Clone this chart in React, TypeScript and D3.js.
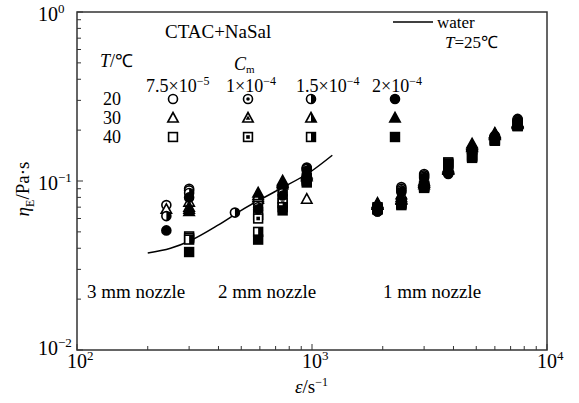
import React from 'react';
import * as d3 from 'd3';

const W = 579;
const H = 403;
const margin = { top: 12, right: 32, bottom: 53, left: 77 };

// strain rates (1/s) for each measured point
const strainRates = [240, 300, 470, 590, 750, 950, 1900, 2400, 3000, 3800, 4800, 6000, 7500];

const temperatures = ['20', '30', '40'];
const concMantissa = ['7.5', '1', '1.5', '2'];
const concExponent = ['−5', '−4', '−4', '−4'];

// extensional viscosity, Pa·s  (T = 20 ℃, circles)
const eta20c75 = [0.072, 0.09, null, 0.076, 0.092, 0.12, 0.068, 0.092, 0.11, 0.114, 0.155, 0.185, 0.233];
const eta20c100 = [null, 0.088, null, 0.073, 0.088, 0.118, 0.067, 0.09, 0.108, 0.112, 0.15, 0.182, 0.23];
const eta20c150 = [0.062, 0.085, 0.065, 0.07, 0.085, 0.118, 0.066, 0.088, 0.106, 0.111, 0.147, 0.18, 0.228];
const eta20c200 = [0.051, 0.08, null, 0.068, 0.082, 0.115, 0.066, 0.086, 0.104, 0.11, 0.145, 0.178, 0.225];
// T = 30 ℃, triangles
const eta30c75 = [0.068, 0.075, null, 0.078, 0.1, 0.078, 0.074, 0.083, 0.1, 0.12, 0.166, 0.192, 0.222];
const eta30c100 = [null, 0.07, null, 0.08, 0.098, 0.11, 0.073, 0.08, 0.098, 0.118, 0.163, 0.19, 0.22];
const eta30c150 = [null, 0.068, null, 0.082, 0.097, 0.108, 0.072, 0.078, 0.097, 0.117, 0.16, 0.188, 0.218];
const eta30c200 = [null, 0.066, null, 0.085, 0.095, 0.106, 0.072, 0.077, 0.095, 0.116, 0.158, 0.186, 0.216];
// T = 40 ℃, squares
const eta40c75 = [null, 0.047, null, 0.063, 0.078, 0.104, 0.07, 0.075, 0.094, 0.129, 0.142, 0.177, 0.215];
const eta40c100 = [null, 0.046, null, 0.06, 0.074, 0.102, 0.069, 0.074, 0.093, 0.127, 0.14, 0.175, 0.213];
const eta40c150 = [null, 0.045, null, 0.05, 0.07, 0.1, 0.068, 0.073, 0.092, 0.126, 0.139, 0.174, 0.212];
const eta40c200 = [null, 0.038, null, 0.045, 0.067, 0.098, 0.068, 0.072, 0.091, 0.124, 0.137, 0.173, 0.211];

// water reference curve
const waterRate = [200, 250, 300, 400, 500, 700, 1000, 1220];
const waterEta = [0.0375, 0.04, 0.044, 0.055, 0.067, 0.087, 0.115, 0.142];

const nozzleLabels = ['3 mm nozzle', '2 mm nozzle', '1 mm nozzle'];

const shapes = ['circle', 'triangle', 'square'];
const styles = ['open', 'dot', 'half', 'filled'];
const seriesValues = [
  [eta20c75, eta20c100, eta20c150, eta20c200],
  [eta30c75, eta30c100, eta30c150, eta30c200],
  [eta40c75, eta40c100, eta40c150, eta40c200],
];

const FONT = "'Liberation Serif', 'Times New Roman', Times, serif";
const sw = 1.6;

function Marker({ shape, style, cx, cy }: { shape: string; style: string; cx: number; cy: number }) {
  const fillMain = style === 'filled' ? '#000' : '#fff';
  if (shape === 'circle') {
    const r = 4.5;
    return (
      <g>
        <circle cx={cx} cy={cy} r={r} fill={fillMain} stroke="#000" strokeWidth={sw} />
        {style === 'dot' && <circle cx={cx} cy={cy} r={1.8} fill="#000" />}
        {style === 'half' && (
          <path d={`M${cx},${cy - r}A${r},${r} 0 0 1 ${cx},${cy + r}Z`} fill="#000" />
        )}
      </g>
    );
  }
  if (shape === 'triangle') {
    const pts = (s: number) =>
      `${cx},${cy - 5.5 * s} ${cx + 5.2 * s},${cy + 4 * s} ${cx - 5.2 * s},${cy + 4 * s}`;
    return (
      <g>
        <polygon points={pts(1)} fill={fillMain} stroke="#000" strokeWidth={sw} strokeLinejoin="miter" />
        {style === 'dot' && <polygon points={pts(0.45)} fill="#000" />}
        {style === 'half' && (
          <polygon points={`${cx},${cy - 5.5} ${cx + 5.2},${cy + 4} ${cx},${cy + 4}`} fill="#000" />
        )}
      </g>
    );
  }
  const h = 4.4;
  return (
    <g>
      <rect x={cx - h} y={cy - h} width={2 * h} height={2 * h} fill={fillMain} stroke="#000" strokeWidth={sw} />
      {style === 'dot' && <rect x={cx - 1.8} y={cy - 1.8} width={3.6} height={3.6} fill="#000" />}
      {style === 'half' && <rect x={cx} y={cy - h} width={h} height={2 * h} fill="#000" />}
    </g>
  );
}

export default function App() {
  const x = d3.scaleLog().domain([1e2, 1e4]).range([margin.left, W - margin.right]);
  const y = d3.scaleLog().domain([1e-2, 1]).range([H - margin.bottom, margin.top]);
  const x0 = margin.left, x1 = W - margin.right, y0 = H - margin.bottom, y1 = margin.top;

  const isMajor = (v: number) => Math.abs(Math.log10(v) - Math.round(Math.log10(v))) < 1e-9;
  const xTicks = x.ticks();
  const yTicks = y.ticks();

  const line = d3
    .line<number>()
    .x((_, i) => x(waterRate[i]))
    .y((d) => y(d))
    .curve(d3.curveMonotoneX);

  // legend layout
  const legColX = [173, 248, 311, 395];
  const legLabelX = [146, 226, 296, 372];
  const legRowY = [99, 118, 137];

  const points: React.ReactNode[] = [];
  styles.forEach((st, si) => {
    shapes.forEach((sh, ti) => {
      seriesValues[ti][si].forEach((v, i) => {
        if (v == null) return;
        points.push(
          <Marker key={`${sh}-${st}-${i}`} shape={sh} style={st} cx={x(strainRates[i])} cy={y(v)} />
        );
      });
    });
  });

  return (
    <svg
      width={W}
      height={H}
      style={{ position: 'absolute', left: 0, top: 0, background: '#fff', fontFamily: FONT }}
    >
      <rect x={0} y={0} width={W} height={H} fill="#fff" />

      {/* ticks */}
      {xTicks.map((t) => (
        <line key={`xt${t}`} x1={x(t)} x2={x(t)} y1={y0} y2={y0 - (isMajor(t) ? 6 : 4)} stroke="#333" strokeWidth={1} />
      ))}
      {yTicks.map((t) => (
        <line key={`yt${t}`} x1={x0} x2={x0 + (isMajor(t) ? 6 : 4)} y1={y(t)} y2={y(t)} stroke="#333" strokeWidth={1} />
      ))}

      {/* tick labels */}
      {xTicks.filter(isMajor).map((t) => (
        <text key={`xl${t}`} x={x(t) - 10} y={y0 + 18} fontSize={20} fill="#000">
          10
          <tspan dy={-8} fontSize={13}>{Math.round(Math.log10(t))}</tspan>
        </text>
      ))}
      {yTicks.filter(isMajor).map((t) => (
        <text key={`yl${t}`} x={38} y={Math.min(y(t) + 9, y0 + 5)} fontSize={20} fill="#000">
          10
          <tspan dy={-8} fontSize={13}>{String(Math.round(Math.log10(t))).replace('-', '−')}</tspan>
        </text>
      ))}

      {/* axis titles */}
      <text x={(x0 + x1) / 2 - 17} y={393} fontSize={19} fill="#000">
        <tspan fontStyle="italic">ε</tspan>/s
        <tspan dy={-7} fontSize={12}>−1</tspan>
      </text>
      <text transform={`translate(29,${(y0 + y1) / 2 + 8}) rotate(-90)`} fontSize={19} fill="#000" textAnchor="middle">
        <tspan fontStyle="italic">η</tspan>
        <tspan dy={5} fontSize={12}>E</tspan>
        <tspan dy={-5}>/Pa·s</tspan>
      </text>

      {/* water curve */}
      <path d={line(waterEta) || ''} fill="none" stroke="#000" strokeWidth={1.5} />

      {/* data */}
      {points}

      {/* nozzle labels */}
      {nozzleLabels.map((lab, i) => (
        <text key={lab} x={[87, 218, 383][i]} y={298} fontSize={19} fill="#000">
          {lab}
        </text>
      ))}

      {/* legend */}
      <text x={165} y={38} fontSize={19} fill="#000">CTAC+NaSal</text>
      <text x={100} y={67} fontSize={18} fill="#000">
        <tspan fontStyle="italic">T</tspan>/℃
      </text>
      <text x={234} y={70} fontSize={18} fill="#000">
        <tspan fontStyle="italic">C</tspan>
        <tspan dy={3} fontSize={11}>m</tspan>
      </text>
      {concMantissa.map((m, i) => (
        <text key={`cl${i}`} x={legLabelX[i]} y={92} fontSize={18} fill="#000">
          {m}×10
          <tspan dy={-7} fontSize={12}>{concExponent[i]}</tspan>
        </text>
      ))}
      {temperatures.map((t, ti) => (
        <g key={`lt${t}`}>
          <text x={103} y={legRowY[ti] + 6} fontSize={18} fill="#000">{t}</text>
          {styles.map((st, si) => (
            <Marker key={st} shape={shapes[ti]} style={st} cx={legColX[si]} cy={legRowY[ti]} />
          ))}
        </g>
      ))}
      <line x1={393} x2={433} y1={22} y2={22} stroke="#000" strokeWidth={1.5} />
      <text x={437} y={28} fontSize={17} fill="#000">water</text>
      <text x={445} y={48} fontSize={17} fill="#000">
        <tspan fontStyle="italic">T</tspan>=25℃
      </text>

      {/* frame */}
      <rect x={x0} y={y1} width={x1 - x0} height={y0 - y1} fill="none" stroke="#333" strokeWidth={1.5} />
    </svg>
  );
}
